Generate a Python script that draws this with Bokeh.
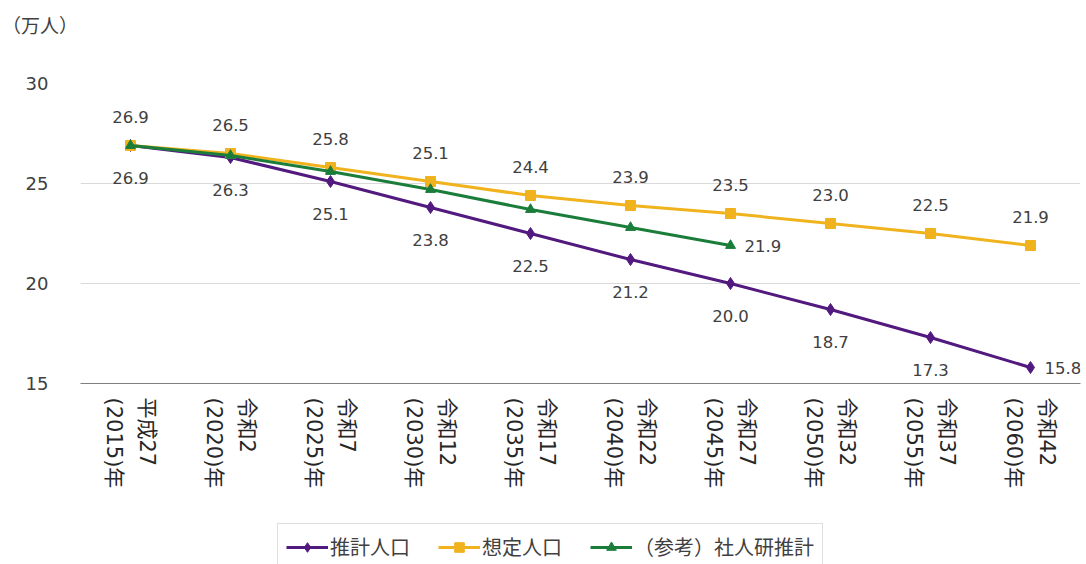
import math
from bokeh.plotting import figure
from bokeh.layouts import column
from bokeh.models import (FactorRange, Range1d, FixedTicker, Legend, LegendItem,
                          ColumnDataSource, Div)
from bokeh.core.properties import value
from bokeh.embed import file_html
from bokeh.resources import INLINE

# Categories: era year and western year
eras = ["平成27", "令和2", "令和7", "令和12", "令和17", "令和22", "令和27", "令和32", "令和37", "令和42"]
years = ["(2015)年", "(2020)年", "(2025)年", "(2030)年", "(2035)年", "(2040)年", "(2045)年", "(2050)年", "(2055)年", "(2060)年"]
categories = [f"{e}\n{y}" for e, y in zip(eras, years)]

# Population (10,000 persons)
estimated = [26.9, 26.3, 25.1, 23.8, 22.5, 21.2, 20.0, 18.7, 17.3, 15.8]
assumed = [26.9, 26.5, 25.8, 25.1, 24.4, 23.9, 23.5, 23.0, 22.5, 21.9]
ipss = [26.9, 26.4, 25.6, 24.7, 23.7, 22.8, 21.9]

series_names = ["推計人口", "想定人口", "（参考）社人研推計"]
unit_text = "（万人）"
y_ticks = [15, 20, 25, 30]

PURPLE = "#52197F"
GOLD = "#F0B31E"
GREEN = "#1B7D3A"
JP = "Noto Sans CJK JP"
NUM = "DejaVu Sans"
MIXED = "DejaVu Sans, Noto Sans CJK JP"
W = 1086

# --- unit caption strip
caption = Div(text=f'<span style="position:relative;top:5px">{unit_text}</span>',
              width=W, height=40, margin=0,
              styles={"font-family": JP, "font-size": "19px", "color": "#404040",
                      "line-height": "40px", "padding-left": "2px",
                      "box-sizing": "border-box"})

# --- main chart
p = figure(width=W, height=480, x_range=FactorRange(*categories),
           y_range=Range1d(15, 30), output_backend="svg", toolbar_location=None,
           min_border_left=80, min_border_right=6, min_border_top=43,
           min_border_bottom=137)
p.outline_line_color = None

p.yaxis.ticker = FixedTicker(ticks=y_ticks)
p.yaxis.axis_line_color = None
p.yaxis.major_tick_line_color = None
p.yaxis.minor_tick_line_color = None
p.yaxis.major_label_text_font = NUM
p.yaxis.major_label_text_font_size = "18px"
p.yaxis.major_label_text_color = "#404040"
p.yaxis.major_label_standoff = 26

p.xaxis.axis_line_color = "#7F7F7F"
p.xaxis.axis_line_width = 1.2
p.xaxis.major_tick_line_color = None
p.xaxis.minor_tick_line_color = None
p.xaxis.major_label_orientation = -math.pi / 2
p.xaxis.major_label_text_font = MIXED
p.xaxis.major_label_text_font_size = "21px"
p.xaxis.major_label_text_color = "#262626"
p.xaxis.major_label_text_line_height = 1.35
p.xaxis.major_label_standoff = 8

p.xgrid.grid_line_color = None
p.ygrid.grid_line_color = "#D9D9D9"
p.ygrid.grid_line_width = 1

src_est = ColumnDataSource(dict(x=categories, y=estimated))
src_asm = ColumnDataSource(dict(x=categories, y=assumed))
src_ips = ColumnDataSource(dict(x=categories[:len(ipss)], y=ipss))
sources = [src_est, src_asm, src_ips]

styles = [
    dict(color=PURPLE, marker="diamond", size=12),
    dict(color=GOLD, marker="square", size=10),
    dict(color=GREEN, marker="triangle", size=10),
]

for src, st in zip(sources, styles):
    p.line("x", "y", source=src, line_color=st["color"], line_width=3)
    p.scatter("x", "y", source=src, marker=st["marker"], size=st["size"],
              fill_color=st["color"], line_color=st["color"])

# Data labels: assumed above, estimated below (last ones to the right)
lab_kw = dict(text_font=value(NUM), text_font_size="16.5px", text_color="#404040",
              text_baseline="middle")
p.text(x=categories, y=assumed, text=[f"{v:.1f}" for v in assumed],
       text_align="center", y_offset=-29, **lab_kw)
n = len(estimated)
p.text(x=categories[:n - 1], y=estimated[:n - 1],
       text=[f"{v:.1f}" for v in estimated[:n - 1]],
       text_align="center", y_offset=32, **lab_kw)
p.text(x=[categories[n - 1]], y=[estimated[n - 1]], text=[f"{estimated[n - 1]:.1f}"],
       text_align="left", x_offset=14, **lab_kw)
p.text(x=[categories[len(ipss) - 1]], y=[ipss[-1]], text=[f"{ipss[-1]:.1f}"],
       text_align="left", x_offset=14, **lab_kw)

# --- legend strip: same series, plotted off-range so only the legend shows
leg = figure(width=W, height=44, output_backend="svg", toolbar_location=None,
             x_axis_type=None, y_axis_type=None, x_range=p.x_range,
             y_range=Range1d(100, 110), min_border_left=80, min_border_right=6,
             min_border_top=0, min_border_bottom=0)
leg.outline_line_color = None
leg.xgrid.visible = False
leg.ygrid.visible = False

items = []
for name, src, st in zip(series_names, sources, styles):
    r1 = leg.line("x", "y", source=src, line_color=st["color"], line_width=3)
    r2 = leg.scatter("x", "y", source=src, marker=st["marker"], size=st["size"] - 1,
                     fill_color=st["color"], line_color=st["color"])
    items.append(LegendItem(label=name, renderers=[r1, r2]))

legend = Legend(items=items, orientation="horizontal", location=(197, -6))
legend.label_text_font = JP
legend.label_text_font_size = "20px"
legend.label_text_color = "#404040"
legend.glyph_width = 42
legend.glyph_height = 24
legend.label_height = 24
legend.spacing = 28
legend.padding = 8
legend.margin = 0
legend.label_standoff = 2
legend.border_line_color = "#BFBFBF"
legend.border_line_width = 1
leg.add_layout(legend, "center")

layout = column(caption, p, leg, spacing=0)
open("out.html", "w").write(file_html(layout, INLINE))
